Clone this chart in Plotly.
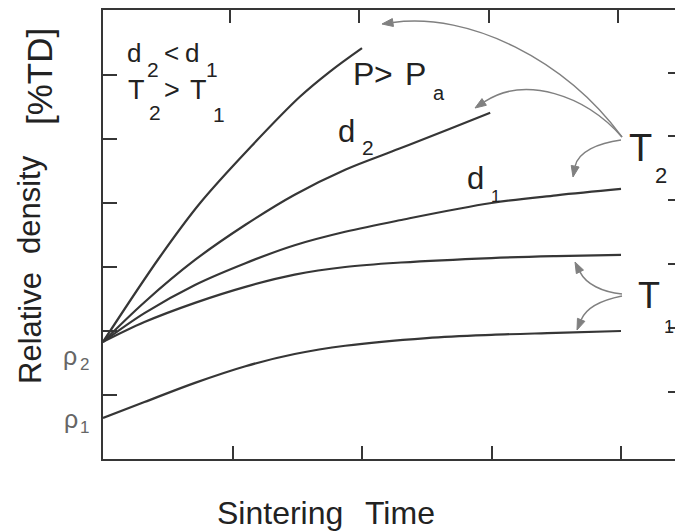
import math
import plotly.graph_objects as go

# ---------------- data (schematic units) ----------------
time_P = [0, 0.44, 0.75, 1.14, 1.52, 1.75, 2.0]
dens_P = [1.83, 3.16, 4.0, 4.875, 5.66, 6.05, 6.42]

time_d2 = [0, 0.32, 0.71, 1.10, 1.48, 1.87, 2.29, 2.68, 2.99]
dens_d2 = [1.83, 2.45, 3.11, 3.66, 4.13, 4.52, 4.85, 5.16, 5.41]

time_d1 = [0, 0.32, 0.71, 1.10, 1.48, 1.87, 2.29, 3.0, 3.5, 4.0]
dens_d1 = [1.83, 2.28, 2.72, 3.06, 3.34, 3.55, 3.73, 4.0, 4.12, 4.22]

time_T1a = [0, 0.32, 0.71, 1.10, 1.48, 1.87, 2.3, 3.0, 3.5, 4.0]
dens_T1a = [1.83, 2.14, 2.44, 2.69, 2.88, 3.0, 3.07, 3.14, 3.17, 3.19]

time_T1b = [0, 0.32, 0.71, 1.10, 1.48, 1.87, 2.5, 3.0, 3.5, 4.0]
dens_T1b = [0.64, 0.89, 1.19, 1.45, 1.64, 1.77, 1.89, 1.94, 1.97, 2.0]

x_ticks_bottom = [1, 2, 3, 4]
x_ticks_top = [0.98, 1.98, 2.98, 3.98]
y_ticks_left = [1, 2, 3, 4, 5, 6]
y_ticks_right = [1.05, 2.05, 3.05, 4.05, 5.05, 6.03]

# ---------------- layout geometry ----------------
W, H = 675, 532
ML, MR, MT, MB = 103, 0, 10, 73
PW, PH = W - ML - MR, H - MT - MB
X_UNIT, Y_UNIT = 129.5, 64.0
X_MAX = PW / X_UNIT
Y_MAX = PH / Y_UNIT

INK = "#363636"
ARROW = "#808080"
FONT = "Liberation Sans, Arial, Helvetica, sans-serif"


def X(px):
    return (px - ML) / X_UNIT


def Y(py):
    return (H - MB - py) / Y_UNIT


def pt(px, py):
    return f"{X(px):.4f},{Y(py):.4f}"


fig = go.Figure()
series = [
    (time_P, dens_P),
    (time_d2, dens_d2),
    (time_d1, dens_d1),
    (time_T1a, dens_T1a),
    (time_T1b, dens_T1b),
]
for xs, ys in series:
    fig.add_trace(go.Scatter(
        x=xs, y=ys, mode="lines",
        line=dict(color=INK, width=2.2, shape="spline", smoothing=1.0),
        hoverinfo="skip", showlegend=False,
    ))
# empty trace to create the top/right mirror axes
fig.add_trace(go.Scatter(x=[], y=[], xaxis="x2", yaxis="y2",
                         showlegend=False, hoverinfo="skip"))

shapes = []


def curved_arrow(p0, c1, c2, tip, L=11, Wd=4.0):
    dx, dy = tip[0] - c2[0], tip[1] - c2[1]
    n = math.hypot(dx, dy)
    ux, uy = dx / n, dy / n
    bx, by = tip[0] - L * ux, tip[1] - L * uy
    perp = (-uy, ux)
    shapes.append(dict(
        type="path", xref="x", yref="y",
        path=f"M {pt(*p0)} C {pt(*c1)} {pt(*c2)} {pt(bx, by)}",
        line=dict(color=ARROW, width=1.5),
    ))
    shapes.append(dict(
        type="path", xref="x", yref="y",
        path=(f"M {pt(*tip)} L {pt(bx + Wd * perp[0], by + Wd * perp[1])} "
              f"L {pt(bx - Wd * perp[0], by - Wd * perp[1])} Z"),
        line=dict(color=ARROW, width=1), fillcolor=ARROW,
    ))


curved_arrow((622, 137), (565, 60), (470, 12), (382, 24))
curved_arrow((622, 137), (585, 95), (525, 75), (475, 108))
curved_arrow((621, 140), (598, 143), (578, 152), (573, 177))
curved_arrow((622, 294), (602, 292), (586, 284), (575, 262))
curved_arrow((622, 296), (602, 300), (586, 308), (577, 330))

annotations = []


def txt(s, cx, cy, size, color="#222222", angle=0):
    annotations.append(dict(
        text=s, x=(cx - ML) / PW, y=(H - MB - cy) / PH,
        xref="paper", yref="paper",
        xanchor="center", yanchor="middle", showarrow=False,
        textangle=angle, font=dict(family=FONT, size=size, color=color),
    ))


# corner legend text
txt("d", 133.5, 53, 26); txt("2", 153, 70, 21); txt("&lt;", 171, 53, 26)
txt("d", 192, 53, 26); txt("1", 211.5, 70, 21)
txt("T", 136.5, 90, 27); txt("2", 155, 112.5, 21); txt("&gt;", 172, 90, 27)
txt("T", 198.5, 90, 27); txt("1", 218.5, 115, 21)
# P>Pa
txt("P", 363.5, 73.5, 32); txt("&gt;", 383.5, 73.5, 32); txt("P", 415, 73.5, 32)
txt("a", 438.5, 93, 20)
# d2, d1
txt("d", 346.5, 131.5, 31); txt("2", 367.5, 147.5, 21)
txt("d", 475, 178.5, 31); txt("1", 495, 196, 17)
# T2, T1
txt("T", 640.5, 147.5, 38); txt("2", 661, 175, 22)
txt("T", 648.5, 295, 36); txt("1", 668.5, 326.5, 18)
# rho labels
txt("ρ", 70, 356, 25, color="#666666"); txt("2", 84, 364, 17, color="#666666")
txt("ρ", 70.5, 419, 25, color="#666666"); txt("1", 84.5, 427.5, 17, color="#666666")
# axis titles
txt("Relative", 30, 328, 31, angle=-90)
txt("density", 30, 205, 31, angle=-90)
txt("[%TD]", 39, 77, 35, angle=-90)
txt("Sintering", 280, 513, 32)
txt("Time", 400, 513, 32)

axis_common = dict(showgrid=False, zeroline=False, showticklabels=False,
                   ticks="inside", tickcolor=INK, tickwidth=2)

fig.update_layout(
    width=W, height=H,
    margin=dict(l=ML, r=MR, t=MT, b=MB),
    paper_bgcolor="white", plot_bgcolor="white",
    xaxis=dict(range=[0, X_MAX], tickvals=x_ticks_bottom, ticklen=13,
               showline=True, linecolor=INK, linewidth=2, **axis_common),
    yaxis=dict(range=[0, Y_MAX], tickvals=y_ticks_left, ticklen=14,
               showline=True, linecolor=INK, linewidth=2, **axis_common),
    xaxis2=dict(range=[0, X_MAX], overlaying="x", side="top",
                tickvals=x_ticks_top, ticklen=13,
                showline=True, linecolor=INK, linewidth=2, **axis_common),
    yaxis2=dict(range=[0, Y_MAX], overlaying="y", side="right",
                tickvals=y_ticks_right, ticklen=7, showline=False,
                **axis_common),
    shapes=shapes,
    annotations=annotations,
    showlegend=False,
)

fig.write_html("out.html",
               config={"displayModeBar": False, "staticPlot": True},
               post_script="document.body.style.margin='0px';")
